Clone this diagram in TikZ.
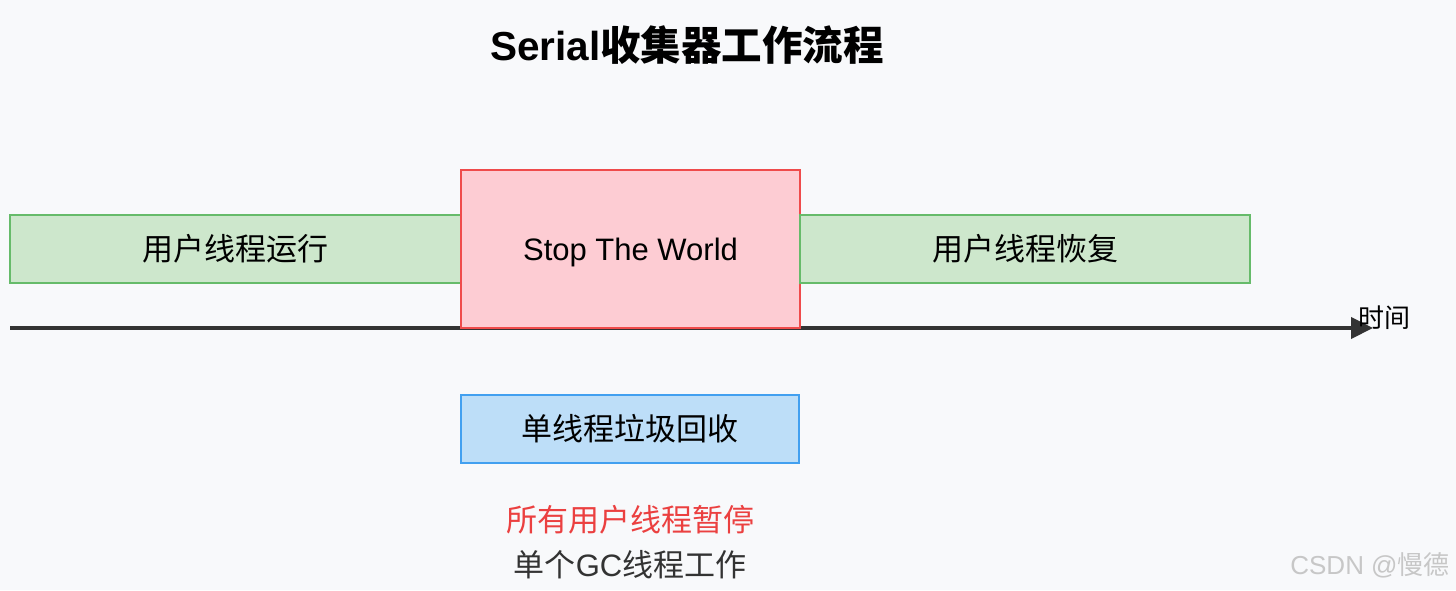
\documentclass[tikz,border=0pt]{standalone}
\usepackage{fontspec}
\setmainfont{Liberation Sans}
\newfontfamily\cjk{Noto Sans CJK SC}
\usetikzlibrary{positioning,arrows.meta}
\definecolor{pagebg}{HTML}{F8F9FB}
\definecolor{runfill}{HTML}{CDE7CC}
\definecolor{rundraw}{HTML}{66BB6A}
\definecolor{stwfill}{HTML}{FDCCD3}
\definecolor{stwdraw}{HTML}{EF4B4B}
\definecolor{gcfill}{HTML}{BDDEF8}
\definecolor{gcdraw}{HTML}{42A0F0}
\definecolor{pausered}{HTML}{EB4040}
\definecolor{axisgray}{HTML}{333333}

\tikzset{
  phase/.style={rectangle,line width=2pt,minimum height=68pt,inner sep=0pt,
    font=\fontsize{31}{36}\selectfont,text height=27pt,text depth=4pt},
  runbox/.style={phase,draw=rundraw,fill=runfill,minimum width=451pt},
  note/.style={inner sep=0pt,font=\fontsize{31}{36}\selectfont,text height=27pt,text depth=4pt}
}

\begin{document}
\begin{tikzpicture}[x=1pt,y=-1pt]
\fill[pagebg] (0,0) rectangle (1456,590);
\useasboundingbox (0,0) rectangle (1456,590);

% title
\node (title) at (687,45) {\fontsize{40.5}{46}\selectfont\bfseries Serial{\cjk\bfseries 收集器工作流程}};

% time axis, under the boxes
\coordinate (axisstart) at (10,328);
\coordinate (axisend) at (1373,328);
\draw[axisgray,line width=4pt,-{Triangle[length=22pt,width=21pt]}] (axisstart) -- (axisend);
\node[inner sep=0pt,font=\fontsize{26}{30}\selectfont] (timelbl) at (1384,318) {\cjk 时间};

% phases
\node[runbox] (run) at (235.5,249) {\cjk 用户线程运行};
\node[phase,draw=stwdraw,fill=stwfill,minimum width=339pt,minimum height=158pt] (stw) at (630.5,249) {Stop The World};
\node[runbox,minimum width=450pt] (resume) at (1025,249) {\cjk 用户线程恢复};

\node[phase,draw=gcdraw,fill=gcfill,minimum width=338pt] (gc) at (630,429) {\cjk 单线程垃圾回收};

% notes
\node[note,text=pausered] (paused) at (630,520) {\cjk 所有用户线程暂停};
\node[note,text=axisgray] (single) at (630,565) {{\cjk 单个}GC{\cjk 线程工作}};

\node[inner sep=0pt,text=black!22,font=\fontsize{26}{30}\selectfont] (mark) at (1370,565) {CSDN @{\cjk 慢德}};
\end{tikzpicture}
\end{document}
